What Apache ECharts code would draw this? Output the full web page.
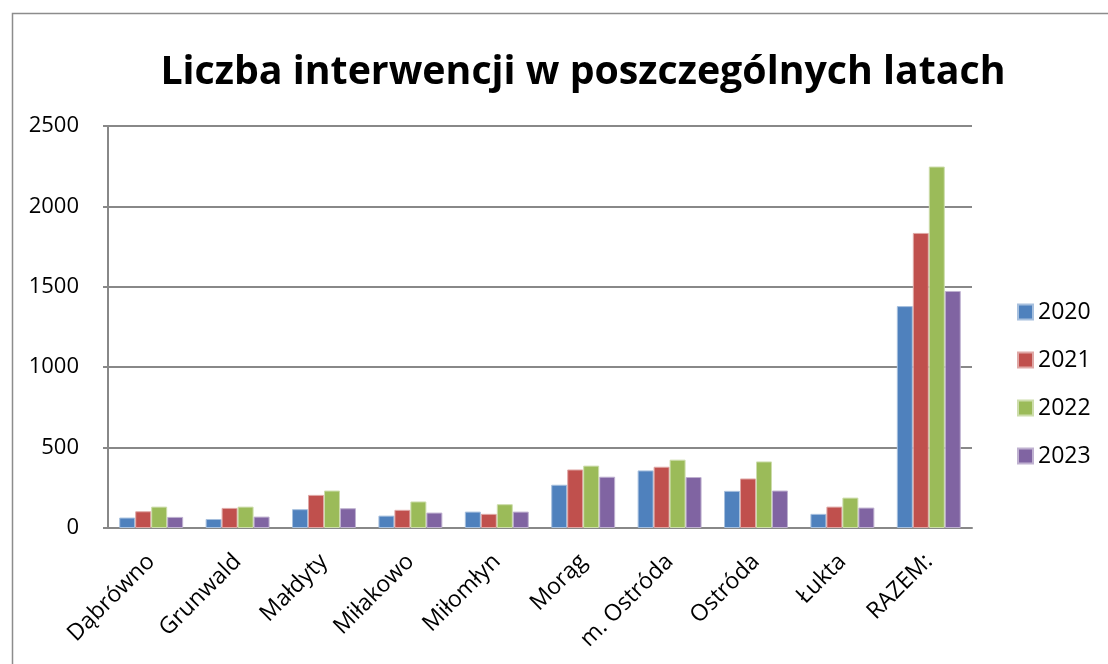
<!DOCTYPE html>
<html>
<head>
<meta charset="utf-8">
<script src="https://cdn.jsdelivr.net/npm/echarts@6/dist/echarts.min.js"></script>
<style>
html, body { margin: 0; padding: 0; background: #fff; }
#container { width: 1108px; height: 664px; }
</style>
</head>
<body>
<div id="container"></div>
<script>
var gminy = ['Dąbrówno', 'Grunwald', 'Małdyty', 'Miłakowo', 'Miłomłyn', 'Morąg', 'm. Ostróda', 'Ostróda', 'Łukta', 'RAZEM:'];
var lata = ['2020', '2021', '2022', '2023'];
var dane2020 = [65, 56, 117, 77, 102, 269, 358, 231, 88, 1380];
var dane2021 = [104, 125, 206, 113, 88, 364, 381, 308, 133, 1835];
var dane2022 = [133, 133, 233, 165, 148, 388, 425, 414, 189, 2248];
var dane2023 = [69, 71, 123, 96, 102, 319, 317, 233, 127, 1474];
var kolory = ['#4F81BD', '#C0504D', '#9BBB59', '#8064A2'];
var obramowanie = ['#A7C0DE', '#DFA8A6', '#CDDDAC', '#BFB1D0'];

var dom = document.getElementById('container');
var myChart = echarts.init(dom);
var wszystkie = [dane2020, dane2021, dane2022, dane2023];
var series = [];
for (var k = 0; k < 4; k++) {
    series.push({
        name: lata[k],
        type: 'bar',
        data: wszystkie[k],
        barGap: '0%',
        barCategoryGap: '26%',
        itemStyle: { color: kolory[k], borderColor: obramowanie[k], borderWidth: 1 }
    });
}

var option = {
    animation: false,
    title: {
        text: 'Liczba interwencji w poszczególnych latach',
        left: 578,
        textAlign: 'center',
        top: 48,
        textStyle: { fontFamily: 'Open Sans', fontWeight: 'bold', fontSize: 39.3, color: '#000' }
    },
    graphic: [{
        type: 'rect',
        shape: { x: 12.5, y: 13.5, width: 1200, height: 800 },
        style: { fill: 'none', stroke: '#8c8c8c', lineWidth: 1.5 },
        z: -1
    }],
    legend: {
        orient: 'vertical',
        left: 1012,
        top: 294,
        itemWidth: 15,
        itemHeight: 15,
        itemGap: 22,
        icon: 'rect',
        textStyle: { fontFamily: 'Open Sans', fontSize: 23, color: '#000', lineHeight: 26 },
        data: lata
    },
    grid: { left: 108, right: 136, top: 126, bottom: 136 },
    xAxis: {
        type: 'category',
        data: gminy,
        axisLine: { lineStyle: { color: '#888', width: 2 } },
        axisTick: { show: false },
        axisLabel: { rotate: 45, fontFamily: 'Open Sans', fontSize: 23, color: '#000', margin: 30, interval: 0 }
    },
    yAxis: {
        type: 'value',
        min: 0,
        max: 2500,
        interval: 500,
        axisLine: { show: true, lineStyle: { color: '#888', width: 2 } },
        axisTick: { show: true, length: 5, lineStyle: { color: '#888', width: 2 } },
        axisLabel: {
            fontFamily: 'Open Sans', fontSize: 22, color: '#000', margin: 29,
            formatter: function (value) { return String(value); }
        },
        splitLine: { lineStyle: { color: '#888', width: 2 } }
    },
    series: series
};
myChart.setOption(option, true);
</script>
</body>
</html>
